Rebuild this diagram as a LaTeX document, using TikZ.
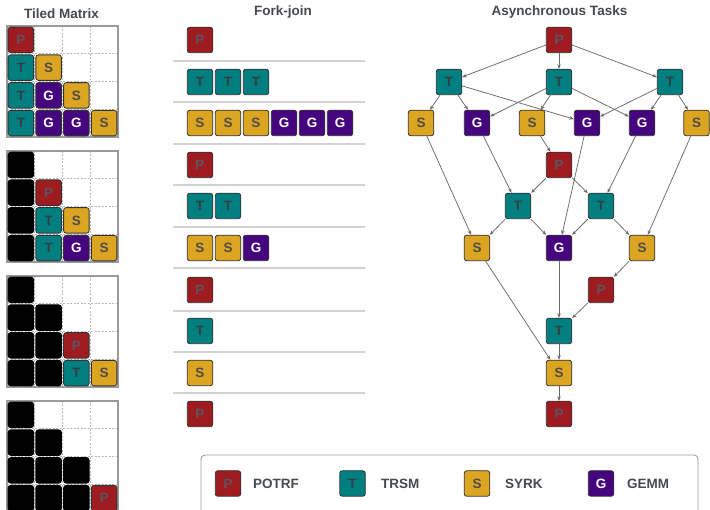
\documentclass[tikz,border=0pt]{standalone}
\usepackage{fontspec}
\setmainfont{Liberation Sans}
\usetikzlibrary{arrows.meta}

\definecolor{fP}{HTML}{9E1B20}
\definecolor{fT}{HTML}{007F80}
\definecolor{fS}{HTML}{DBA522}
\definecolor{fG}{HTML}{45057F}
\definecolor{tP}{HTML}{5A5560}
\definecolor{tT}{HTML}{373D42}
\definecolor{tS}{HTML}{4F4B48}
\definecolor{tG}{HTML}{FFFFFF}
\definecolor{tileedge}{HTML}{333333}
\definecolor{headc}{HTML}{454950}
\definecolor{edgec}{HTML}{6A6A6A}
\definecolor{sepc}{HTML}{D2D2D2}
\definecolor{gridc}{HTML}{B8B8B8}
\definecolor{framec}{HTML}{9A9A9A}

\begin{document}
\begin{tikzpicture}[x=1pt,y=-1pt,
  tilebase/.style={rectangle, rounded corners=2.5pt, draw=tileedge, line width=0.8pt,
    minimum width=25.5pt, minimum height=25.5pt, inner sep=0pt,
    font=\bfseries\fontsize{13.5}{13.5}\selectfont, text height=9.6pt, text depth=0pt},
  tile/.style={tilebase, fill=f#1, text=t#1},
  done/.style={tilebase, fill=black, draw=black},
  head/.style={font=\bfseries\fontsize{13.5}{14}\selectfont, text=headc, anchor=base, inner sep=0pt},
  leglabel/.style={font=\bfseries\fontsize{13.5}{14}\selectfont, text=headc, anchor=west, inner sep=0pt},
  dep/.style={draw=edgec, line width=0.75pt, -{Stealth[length=4.5pt,width=3.6pt]}},
  cellline/.style={draw=gridc, line width=0.6pt, dash pattern=on 2pt off 1.5pt},
  frame/.style={draw=framec, line width=1.2pt},
  sepline/.style={draw=sepc, line width=1.5pt},
  legendbox/.style={draw=framec, line width=0.9pt, rounded corners=4pt}]
\useasboundingbox (0,0) rectangle (710,510);

% column titles
\node[head] (h1) at (61.5,18.5) {Tiled Matrix};
\node[head] (h2) at (283,15.5) {Fork-join};
\node[head] (h3) at (559.5,15.5) {Asynchronous Tasks};

% tiled matrix grids
\foreach \t in {26,151,276,401} {
  \foreach \i in {1,2,3} {
    \draw[cellline] ({7+27.75*\i},\t) -- ({7+27.75*\i},\t+111);
    \draw[cellline] (7,{\t+27.75*\i}) -- (118,{\t+27.75*\i});
  }
  \draw[frame] (7,\t) rectangle (118,\t+111);
}

% step 1
\foreach \r/\c/\k in {0/0/P,1/0/T,1/1/S,2/0/T,2/1/G,2/2/S,3/0/T,3/1/G,3/2/G,3/3/S}
  \node[tile=\k] (ma-\r\c) at ({7+27.75*(\c+0.5)},{26+27.75*(\r+0.5)}) {\k};
% step 2
\foreach \r/\c in {0/0,1/0,2/0,3/0}
  \node[done] (mb-\r\c) at ({7+27.75*(\c+0.5)},{151+27.75*(\r+0.5)}) {};
\foreach \r/\c/\k in {1/1/P,2/1/T,2/2/S,3/1/T,3/2/G,3/3/S}
  \node[tile=\k] (mb-\r\c) at ({7+27.75*(\c+0.5)},{151+27.75*(\r+0.5)}) {\k};
% step 3
\foreach \r/\c in {0/0,1/0,1/1,2/0,2/1,3/0,3/1}
  \node[done] (mc-\r\c) at ({7+27.75*(\c+0.5)},{276+27.75*(\r+0.5)}) {};
\foreach \r/\c/\k in {2/2/P,3/2/T,3/3/S}
  \node[tile=\k] (mc-\r\c) at ({7+27.75*(\c+0.5)},{276+27.75*(\r+0.5)}) {\k};
% step 4
\foreach \r/\c in {0/0,1/0,1/1,2/0,2/1,2/2,3/0,3/1,3/2}
  \node[done] (md-\r\c) at ({7+27.75*(\c+0.5)},{401+27.75*(\r+0.5)}) {};
\node[tile=P] (md-33) at ({7+27.75*3.5},{401+27.75*3.5}) {P};

% fork-join phases
\foreach \y in {61,102,144,185,227,268,311,352,393}
  \draw[sepline] (173,\y) -- (365,\y);
\foreach \y/\row [count=\n] in {40/{P},82/{T,T,T},123/{S,S,S,G,G,G},165/{P},206/{T,T},
    248/{S,S,G},290/{P},331/{T},373/{S},414/{P}}
  \foreach \k [count=\i from 0] in \row
    \node[tile=\k] (fj\n-\i) at ({200+28*\i},\y) {\k};

% task graph
\node[tile=P] (p1) at (559,40) {P};
\node[tile=T] (t1) at (449,82) {T};
\node[tile=T] (t2) at (559,82) {T};
\node[tile=T] (t3) at (670,82) {T};
\node[tile=S] (s1) at (421,123) {S};
\node[tile=G] (g1) at (477,123) {G};
\node[tile=S] (s2) at (532,123) {S};
\node[tile=G] (g2) at (587,123) {G};
\node[tile=G] (g3) at (642,123) {G};
\node[tile=S] (s3) at (696.5,123) {S};
\node[tile=P] (p2) at (559,165) {P};
\node[tile=T] (t4) at (518,206) {T};
\node[tile=T] (t5) at (601,206) {T};
\node[tile=S] (s4) at (477,248) {S};
\node[tile=G] (g4) at (559,248) {G};
\node[tile=S] (s5) at (642,248) {S};
\node[tile=P] (p3) at (601,290) {P};
\node[tile=T] (t6) at (559,331) {T};
\node[tile=S] (s6) at (559,373) {S};
\node[tile=P] (p4) at (559,414) {P};

\foreach \a/\b in {p1/t1,p1/t2,p1/t3,
    t1/s1,t1/g1,t1/g2,t2/g1,t2/s2,t2/g3,t3/g2,t3/g3,t3/s3,
    s1/s4,g1/t4,s2/p2,g2/g4,g3/t5,s3/s5,
    p2/t4,p2/t5,t4/s4,t4/g4,t5/g4,t5/s5,
    s5/p3,s4/s6,g4/t6,p3/t6,t6/s6,s6/p4}
  \draw[dep] (\a) -- (\b);

% legend
\draw[legendbox] (201,455) rectangle (698,516);
\node[tile=P] (lp) at (228,483.5) {P};
\node[leglabel] (lpt) at (253,483.5) {POTRF};
\node[tile=T] (lt) at (352.5,483.5) {T};
\node[leglabel] (ltt) at (381,483.5) {TRSM};
\node[tile=S] (ls) at (477,483.5) {S};
\node[leglabel] (lst) at (505,483.5) {SYRK};
\node[tile=G] (lg) at (601,483.5) {G};
\node[leglabel] (lgt) at (627,483.5) {GEMM};
\end{tikzpicture}
\end{document}
